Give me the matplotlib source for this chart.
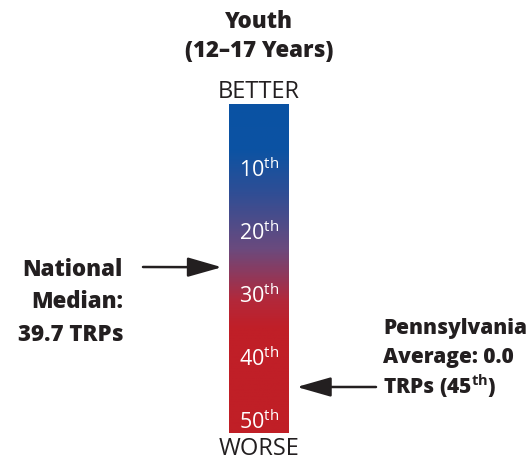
import matplotlib
matplotlib.use("Agg")
import matplotlib.pyplot as plt
import numpy as np
from matplotlib.colors import LinearSegmentedColormap

plt.rcParams['font.family'] = ['Open Sans', 'DejaVu Sans']
plt.rcParams['mathtext.fontset'] = 'custom'
plt.rcParams['mathtext.rm'] = 'Open Sans'
plt.rcParams['mathtext.bf'] = 'Open Sans:bold'

# data
title_lines = ["Youth", "(12\u201317 Years)"]
percentile_ticks = [10, 20, 30, 40, 50]
tick_labels = ["10$^{\\mathrm{th}}$", "20$^{\\mathrm{th}}$", "30$^{\\mathrm{th}}$",
               "40$^{\\mathrm{th}}$", "50$^{\\mathrm{th}}$"]
scale_top, scale_bottom = -0.5, 51.7
grad_pos = [0.0, 0.14, 0.27, 0.44, 0.6, 0.68, 1.0]
grad_cols = ["#0a52a3", "#0c53a3", "#2f4e95", "#6a4a7e", "#b3283a", "#c01f28", "#c01f26"]
national_pct = 25.4
national_lines = ["National", "Median:", "39.7 TRPs"]
pa_pct = 44.4
pa_lines = ["Pennsylvania", "Average: 0.0", "TRPs (45$^{\\mathbf{th}}$)"]

W, H = 532, 461
ink = "#231f20"
fig = plt.figure(figsize=(W / 100, H / 100), dpi=100)


def fx(px):
    return px / W


def fy(py):
    return 1 - py / H


ax = fig.add_axes([fx(229), fy(433), fx(289) - fx(229), (433 - 104) / H])
cmap = LinearSegmentedColormap.from_list("bw", list(zip(grad_pos, grad_cols)))
grad = np.linspace(0, 1, 400).reshape(-1, 1)
ax.imshow(grad, cmap=cmap, aspect="auto", extent=[0, 1, scale_bottom, scale_top])
ax.set_xlim(0, 1)
ax.set_ylim(scale_bottom, scale_top)
ax.axis("off")

for p, lab in zip(percentile_ticks, tick_labels):
    ax.text(0.5, p, lab, color="white", fontsize=15.5, ha="center", va="center")

bold = dict(fontsize=16, fontweight=800, color=ink, va="center")
fig.text(fx(259), fy(22), title_lines[0], ha="center", **bold)
fig.text(fx(259), fy(51), title_lines[1], ha="center", **bold)
fig.text(fx(259), fy(92), "BETTER", fontsize=17, ha="center", va="center", color=ink)
fig.text(fx(259), fy(449), "WORSE", fontsize=17, ha="center", va="center", color=ink)

for i, line in enumerate(national_lines):
    fig.text(fx(123), fy(270 + 32.5 * i), line, ha="right", **bold)
pa_style = dict(bold, fontsize=15)
for i, line in enumerate(pa_lines):
    fig.text(fx(383), fy(328 + 29 * i), line, ha="left", **pa_style)

arrow = dict(arrowstyle="-|>,head_length=2.1,head_width=0.6", color=ink,
             lw=1.8, shrinkA=0, shrinkB=0)
ax.annotate("", xy=(-0.12, national_pct), xycoords="data",
            xytext=(fx(143), fy(267)), textcoords="figure fraction",
            arrowprops=arrow, annotation_clip=False)
ax.annotate("", xy=(1.13, pa_pct), xycoords="data",
            xytext=(fx(376), fy(387)), textcoords="figure fraction",
            arrowprops=arrow, annotation_clip=False)

fig.savefig("out.png", dpi=100)
